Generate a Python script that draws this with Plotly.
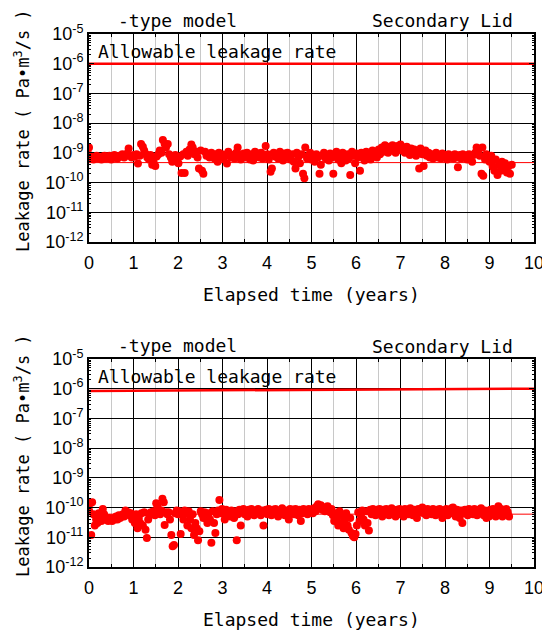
import plotly.graph_objects as go

# ---------------- data ----------------
years_top = [
    0.00, 0.01, 0.04, 0.07, 0.10, 0.13, 0.17, 0.20, 0.24, 0.28, 0.31, 0.35, 0.38, 0.42, 0.46, 0.50,
    0.53, 0.57, 0.60, 0.64, 0.68, 0.71, 0.75, 0.79, 0.82, 0.86, 0.89, 0.92, 0.96, 1.00, 1.03, 1.07,
    1.10, 1.14, 1.17, 1.21, 1.24, 1.28, 1.31, 1.35, 1.38, 1.42, 1.45, 1.49, 1.52, 1.56, 1.59, 1.63,
    1.66, 1.70, 1.73, 1.77, 1.80, 1.84, 1.87, 1.91, 1.94, 1.98, 2.01, 2.05, 2.08, 2.12, 2.15, 2.19,
    2.22, 2.26, 2.30, 2.33, 2.37, 2.40, 2.44, 2.47, 2.51, 2.54, 2.57, 2.61, 2.64, 2.68, 2.71, 2.75,
    2.78, 2.82, 2.85, 2.89, 2.92, 2.96, 2.99, 3.03, 3.06, 3.10, 3.13, 3.17, 3.20, 3.24, 3.27, 3.31,
    3.34, 3.38, 3.41, 3.45, 3.48, 3.52, 3.55, 3.59, 3.62, 3.66, 3.69, 3.73, 3.76, 3.80, 3.83, 3.87,
    3.90, 3.94, 3.97, 4.01, 4.04, 4.08, 4.11, 4.15, 4.18, 4.22, 4.25, 4.29, 4.32, 4.36, 4.39, 4.43,
    4.46, 4.50, 4.53, 4.57, 4.60, 4.64, 4.67, 4.71, 4.74, 4.78, 4.81, 4.84, 4.86, 4.90, 4.93, 4.97,
    5.00, 5.04, 5.07, 5.11, 5.14, 5.18, 5.21, 5.25, 5.28, 5.32, 5.35, 5.39, 5.42, 5.46, 5.49, 5.53,
    5.56, 5.60, 5.63, 5.67, 5.70, 5.74, 5.77, 5.81, 5.84, 5.87, 5.91, 5.94, 5.98, 6.01, 6.05, 6.09,
    6.12, 6.16, 6.19, 6.23, 6.26, 6.30, 6.33, 6.37, 6.40, 6.44, 6.47, 6.51, 6.54, 6.58, 6.61, 6.65,
    6.68, 6.72, 6.75, 6.79, 6.82, 6.86, 6.89, 6.93, 6.96, 7.00, 7.03, 7.07, 7.10, 7.14, 7.17, 7.21,
    7.24, 7.28, 7.31, 7.35, 7.38, 7.42, 7.45, 7.49, 7.52, 7.56, 7.59, 7.63, 7.66, 7.70, 7.73, 7.77,
    7.80, 7.84, 7.87, 7.91, 7.94, 7.98, 8.01, 8.05, 8.08, 8.12, 8.15, 8.19, 8.22, 8.26, 8.29, 8.33,
    8.36, 8.40, 8.43, 8.47, 8.50, 8.54, 8.57, 8.61, 8.64, 8.68, 8.71, 8.75, 8.78, 8.82, 8.84, 8.86,
    8.90, 8.93, 8.97, 9.00, 9.04, 9.07, 9.11, 9.14, 9.18, 9.21, 9.25, 9.28, 9.32, 9.35, 9.39, 9.42,
    9.46, 9.50,
]
leak_top = [
    1.5e-9, 8.5e-10, 6.5e-10, 7.5e-10, 6.0e-10, 7.0e-10, 8.0e-10, 6.5e-10, 7.0e-10, 6.0e-10, 7.5e-10, 8.0e-10, 6.5e-10, 7.0e-10, 8.0e-10, 6.0e-10,
    7.5e-10, 8.5e-10, 7.0e-10, 6.5e-10, 8.0e-10, 7.5e-10, 9.0e-10, 7.0e-10, 8.0e-10, 9.5e-10, 1.4e-9, 8.0e-10, 7.0e-10, 8.5e-10, 7.5e-10, 9.0e-10,
    4.4e-10, 8.0e-10, 2.0e-9, 1.6e-9, 1.2e-9, 9.0e-10, 7.0e-10, 6.0e-10, 8.5e-10, 4.0e-10, 5.0e-10, 3.6e-10, 7.5e-10, 9.0e-10, 1.2e-9, 1.0e-9,
    2.7e-9, 2.0e-9, 1.5e-9, 2.0e-9, 9.0e-10, 7.0e-10, 5.0e-10, 6.0e-10, 8.5e-10, 5.0e-10, 4.5e-10, 7.5e-10, 2.1e-10, 9.0e-10, 2.1e-10, 1.1e-9,
    8.0e-10, 1.3e-9, 1.9e-9, 1.5e-9, 9.0e-10, 1.1e-9, 7.0e-10, 3.0e-10, 1.2e-9, 2.5e-10, 2.0e-10, 1.1e-9, 8.0e-10, 9.0e-10, 7.0e-10, 1.0e-9,
    8.0e-10, 6.5e-10, 9.0e-10, 5.0e-10, 1.0e-9, 7.5e-10, 9.0e-10, 6.5e-10, 8.0e-10, 4.4e-10, 1.1e-9, 9.0e-10, 7.0e-10, 8.5e-10, 6.5e-10, 1.0e-9,
    1.5e-9, 9.0e-10, 6.0e-10, 8.0e-10, 9.5e-10, 7.0e-10, 1.0e-9, 8.0e-10, 6.0e-10, 9.0e-10, 5.5e-10, 1.1e-9, 8.0e-10, 9.5e-10, 7.0e-10, 1.0e-9,
    6.5e-10, 8.5e-10, 1.7e-9, 9.0e-10, 6.0e-10, 2.3e-10, 3.0e-10, 1.0e-9, 7.5e-10, 9.0e-10, 6.5e-10, 1.1e-9, 8.0e-10, 5.5e-10, 9.5e-10, 7.0e-10,
    1.0e-9, 8.0e-10, 6.0e-10, 9.0e-10, 5.0e-10, 3.0e-10, 1.0e-9, 7.5e-10, 4.5e-10, 9.0e-10, 2.0e-10, 1.4e-10, 1.5e-9, 6.5e-10, 8.0e-10, 1.0e-9,
    6.0e-10, 8.5e-10, 5.0e-10, 9.0e-10, 7.0e-10, 2.0e-10, 4.0e-10, 8.0e-10, 1.0e-9, 6.5e-10, 8.5e-10, 5.5e-10, 9.5e-10, 7.0e-10, 2.0e-10, 8.0e-10,
    1.1e-9, 6.0e-10, 9.0e-10, 4.5e-10, 1.0e-9, 7.5e-10, 5.5e-10, 9.0e-10, 6.5e-10, 1.8e-10, 1.1e-9, 8.0e-10, 4.5e-10, 9.5e-10, 7.0e-10, 2.5e-10,
    1.0e-9, 8.0e-10, 5.5e-10, 1.1e-9, 7.5e-10, 9.5e-10, 6.0e-10, 1.2e-9, 8.5e-10, 1.0e-9, 7.0e-10, 1.3e-9, 9.0e-10, 1.5e-9, 1.1e-9, 1.8e-9,
    1.3e-9, 1.0e-9, 1.6e-9, 1.2e-9, 1.8e-9, 1.4e-9, 1.0e-9, 1.7e-9, 1.3e-9, 1.9e-9, 1.2e-9, 1.5e-9, 1.0e-9, 1.6e-9, 1.2e-9, 8.5e-10,
    1.4e-9, 1.0e-9, 1.3e-9, 8.0e-10, 1.1e-9, 3.0e-10, 1.4e-9, 9.0e-10, 3.6e-10, 1.2e-9, 8.0e-10, 1.0e-9, 7.0e-10, 9.0e-10, 6.5e-10, 8.5e-10,
    1.0e-9, 7.0e-10, 8.0e-10, 6.5e-10, 9.5e-10, 7.5e-10, 8.5e-10, 6.0e-10, 9.0e-10, 7.0e-10, 8.0e-10, 6.5e-10, 9.0e-10, 7.0e-10, 3.3e-10, 8.5e-10,
    6.5e-10, 9.0e-10, 7.0e-10, 8.0e-10, 6.0e-10, 9.0e-10, 7.5e-10, 5.0e-10, 8.5e-10, 1.0e-9, 1.5e-9, 1.2e-9, 8.0e-10, 2.0e-10, 1.5e-9, 1.7e-10,
    6.0e-10, 9.0e-10, 7.0e-10, 5.0e-10, 8.0e-10, 3.5e-10, 2.5e-10, 6.0e-10, 1.8e-10, 4.0e-10, 2.5e-10, 5.0e-10, 3.0e-10, 4.5e-10, 2.2e-10, 3.5e-10,
    2.0e-10, 4.0e-10,
]

years_bot = [
    0.00, 0.03, 0.05, 0.07, 0.10, 0.13, 0.16, 0.19, 0.22, 0.25, 0.28, 0.31, 0.34, 0.37, 0.40, 0.43,
    0.46, 0.49, 0.52, 0.55, 0.58, 0.61, 0.64, 0.67, 0.70, 0.73, 0.76, 0.79, 0.82, 0.85, 0.88, 0.91,
    0.94, 0.97, 1.00, 1.03, 1.06, 1.09, 1.12, 1.15, 1.18, 1.21, 1.24, 1.27, 1.30, 1.33, 1.36, 1.39,
    1.42, 1.45, 1.48, 1.51, 1.54, 1.57, 1.60, 1.63, 1.65, 1.68, 1.70, 1.73, 1.76, 1.79, 1.82, 1.85,
    1.88, 1.91, 1.94, 1.97, 2.00, 2.03, 2.06, 2.09, 2.12, 2.15, 2.18, 2.21, 2.24, 2.27, 2.30, 2.33,
    2.36, 2.39, 2.42, 2.45, 2.48, 2.51, 2.54, 2.57, 2.60, 2.63, 2.66, 2.69, 2.72, 2.75, 2.78, 2.81,
    2.84, 2.87, 2.90, 2.93, 2.96, 2.99, 3.02, 3.05, 3.08, 3.11, 3.14, 3.17, 3.20, 3.23, 3.26, 3.29,
    3.32, 3.35, 3.38, 3.41, 3.44, 3.47, 3.50, 3.53, 3.56, 3.59, 3.62, 3.65, 3.68, 3.71, 3.74, 3.77,
    3.80, 3.83, 3.86, 3.89, 3.92, 3.95, 3.98, 4.01, 4.04, 4.07, 4.10, 4.13, 4.16, 4.19, 4.22, 4.25,
    4.28, 4.31, 4.34, 4.37, 4.40, 4.43, 4.46, 4.49, 4.52, 4.55, 4.58, 4.61, 4.64, 4.67, 4.70, 4.73,
    4.76, 4.79, 4.82, 4.85, 4.88, 4.91, 4.94, 4.97, 5.00, 5.03, 5.06, 5.09, 5.12, 5.15, 5.18, 5.21,
    5.24, 5.27, 5.30, 5.33, 5.36, 5.39, 5.42, 5.45, 5.48, 5.51, 5.54, 5.57, 5.60, 5.63, 5.66, 5.69,
    5.72, 5.75, 5.78, 5.81, 5.84, 5.87, 5.90, 5.93, 5.96, 5.99, 6.02, 6.05, 6.08, 6.11, 6.14, 6.17,
    6.20, 6.23, 6.26, 6.29, 6.32, 6.35, 6.38, 6.41, 6.44, 6.47, 6.50, 6.53, 6.56, 6.59, 6.62, 6.65,
    6.68, 6.71, 6.74, 6.77, 6.80, 6.83, 6.86, 6.89, 6.92, 6.95, 6.98, 7.01, 7.04, 7.07, 7.10, 7.13,
    7.16, 7.19, 7.22, 7.25, 7.28, 7.31, 7.34, 7.37, 7.40, 7.43, 7.46, 7.49, 7.52, 7.55, 7.58, 7.61,
    7.64, 7.67, 7.70, 7.73, 7.76, 7.79, 7.82, 7.85, 7.88, 7.91, 7.94, 7.97, 8.00, 8.03, 8.06, 8.09,
    8.12, 8.15, 8.18, 8.21, 8.24, 8.27, 8.30, 8.33, 8.36, 8.39, 8.42, 8.45, 8.48, 8.51, 8.54, 8.57,
    8.60, 8.63, 8.66, 8.69, 8.72, 8.75, 8.78, 8.81, 8.84, 8.87, 8.90, 8.93, 8.96, 8.99, 9.02, 9.05,
    9.08, 9.11, 9.14, 9.17, 9.20, 9.23, 9.26, 9.29, 9.32, 9.35, 9.38, 9.41, 9.44,
]
leak_bot = [
    8.0e-11, 1.4e-10, 1.2e-11, 1.5e-10, 6.0e-11, 2.5e-11, 4.0e-11, 3.0e-11, 6.5e-11, 4.5e-11, 3.5e-11, 9.0e-11, 6.0e-11, 4.0e-11, 4.5e-11, 3.5e-11,
    4.5e-11, 4.0e-11, 3.5e-11, 4.5e-11, 4.0e-11, 5.0e-11, 4.0e-11, 5.5e-11, 4.5e-11, 5.0e-11, 6.0e-11, 5.0e-11, 8.0e-11, 6.5e-11, 7.0e-11, 5.5e-11,
    6.5e-11, 4.0e-11, 5.5e-11, 3.0e-11, 6.0e-11, 2.0e-11, 4.5e-11, 3.0e-11, 6.5e-11, 2.5e-11, 7.0e-11, 1.8e-11, 9.5e-12, 4.0e-11, 6.0e-11, 7.0e-11,
    6.0e-11, 7.5e-11, 5.5e-11, 1.4e-10, 1.1e-10, 7.0e-11, 6.0e-11, 8.0e-11, 2.0e-10, 1.5e-10, 2.6e-11, 7.0e-11, 6.0e-11, 7.0e-11, 4.0e-11, 1.2e-11,
    5.0e-12, 5.5e-12, 6.5e-11, 8.0e-11, 6.0e-11, 7.5e-11, 1.3e-11, 7.0e-11, 4.0e-11, 8.0e-11, 6.5e-11, 2.5e-11, 7.5e-11, 4.0e-11, 2.0e-11, 6.0e-11,
    1.2e-11, 3.0e-11, 2.0e-11, 8.0e-12, 1.6e-11, 7.5e-11, 6.0e-11, 4.5e-11, 7.0e-11, 5.0e-11, 3.0e-11, 6.5e-11, 4.0e-11, 6.5e-12, 7.5e-11, 3.0e-11,
    1.4e-11, 6.0e-11, 8.0e-11, 1.8e-10, 6.5e-11, 9.0e-11, 7.0e-11, 4.0e-11, 8.5e-11, 6.0e-11, 7.5e-11, 5.0e-11, 8.0e-11, 6.5e-11, 4.5e-11, 7.5e-11,
    8.0e-12, 6.0e-11, 8.5e-11, 2.5e-11, 7.0e-11, 9.0e-11, 6.0e-11, 7.5e-11, 5.0e-11, 8.5e-11, 6.5e-11, 9.0e-11, 7.0e-11, 5.5e-11, 8.0e-11, 6.5e-11,
    9.0e-11, 7.0e-11, 5.5e-11, 8.0e-11, 2.5e-11, 7.0e-11, 8.5e-11, 6.0e-11, 9.0e-11, 7.0e-11, 5.5e-11, 8.5e-11, 6.5e-11, 9.0e-11, 7.0e-11, 5.0e-11,
    8.0e-11, 6.5e-11, 9.5e-11, 7.0e-11, 5.5e-11, 8.0e-11, 6.5e-11, 4.0e-11, 9.0e-11, 7.0e-11, 8.5e-11, 6.0e-11, 9.0e-11, 7.5e-11, 5.5e-11, 8.5e-11,
    3.5e-11, 6.5e-11, 9.0e-11, 7.0e-11, 8.0e-11, 6.0e-11, 9.0e-11, 7.5e-11, 8.5e-11, 6.5e-11, 9.5e-11, 7.5e-11, 1.1e-10, 1.3e-10, 1.0e-10, 1.2e-10,
    8.5e-11, 1.0e-10, 7.5e-11, 9.0e-11, 1.1e-10, 8.0e-11, 7.0e-11, 9.0e-11, 5.5e-11, 3.5e-11, 6.5e-11, 4.5e-11, 2.5e-11, 7.5e-11, 3.0e-11, 5.5e-11,
    2.0e-11, 4.0e-11, 6.5e-11, 2.5e-11, 1.8e-11, 4.5e-11, 1.4e-11, 1.1e-11, 1.0e-11, 1.3e-11, 2.5e-11, 7.0e-11, 3.5e-11, 5.5e-11, 8.0e-11, 4.0e-11,
    2.5e-11, 7.5e-11, 3.0e-11, 1.7e-11, 8.5e-11, 6.0e-11, 9.0e-11, 7.0e-11, 5.5e-11, 8.5e-11, 6.5e-11, 9.0e-11, 7.0e-11, 5.0e-11, 8.5e-11, 6.5e-11,
    9.0e-11, 7.5e-11, 5.5e-11, 8.0e-11, 9.5e-11, 6.5e-11, 7.5e-11, 5.0e-11, 8.5e-11, 7.0e-11, 9.0e-11, 6.0e-11, 8.0e-11, 5.0e-11, 9.0e-11, 7.0e-11,
    8.5e-11, 6.0e-11, 9.5e-11, 7.0e-11, 5.5e-11, 8.5e-11, 6.5e-11, 4.5e-11, 9.0e-11, 7.0e-11, 8.0e-11, 1.0e-10, 6.5e-11, 8.5e-11, 5.5e-11, 9.0e-11,
    7.0e-11, 8.0e-11, 6.0e-11, 9.0e-11, 7.5e-11, 5.5e-11, 8.5e-11, 6.5e-11, 9.0e-11, 7.0e-11, 4.5e-11, 8.0e-11, 6.5e-11, 9.0e-11, 5.5e-11, 8.0e-11,
    6.5e-11, 9.5e-11, 1.0e-10, 7.0e-11, 5.0e-11, 8.5e-11, 6.5e-11, 4.5e-11, 8.0e-11, 3.0e-11, 6.5e-11, 8.5e-11, 7.0e-11, 5.5e-11, 9.0e-11, 7.0e-11,
    8.0e-11, 6.0e-11, 9.0e-11, 7.5e-11, 5.5e-11, 8.5e-11, 6.5e-11, 9.5e-11, 7.0e-11, 5.5e-11, 8.0e-11, 4.5e-11, 7.0e-11, 5.0e-11, 8.5e-11, 6.0e-11,
    9.0e-11, 7.0e-11, 5.0e-11, 8.0e-11, 1.1e-10, 6.5e-11, 9.0e-11, 5.0e-11, 8.0e-11, 6.0e-11, 9.0e-11, 7.0e-11, 5.0e-11,
]

allow_x = [0, 10]
allow_top = [1.0e-6, 1.0e-6]
allow_bot = [8.4e-7, 1.0e-6]
trend_x = [0, 10]
trend_top = [4.7e-10, 4.7e-10]
trend_bot = [6.0e-11, 6.0e-11]

x_ticks = [0, 1, 2, 3, 4, 5, 6, 7, 8, 9, 10]
y_exps = [-12, -11, -10, -9, -8, -7, -6, -5]
y_ticktext = ["10<sup>%d</sup>" % e for e in y_exps]
y_tickvals = [10.0 ** e for e in y_exps]
y_minor = [m * 10.0 ** e for e in y_exps[:-1] for m in range(2, 10)]

title_left = "-type model"
title_right = "Secondary Lid"
allow_label = "Allowable leakage rate"
x_title = "Elapsed time (years)"
y_title = "Leakage rate ( Pa\u2022m<sup>3</sup>/s )"

# ---------------- figure ----------------
W, H = 542, 630
RED = "#ff0000"
MONO = "DejaVu Sans Mono"
SANS = "Liberation Sans"

fig = go.Figure()

panels = [
    dict(xa="x", ya="y", top=34, years=years_top, leak=leak_top, allow=allow_top, trend=trend_top),
    dict(xa="x2", ya="y2", top=359, years=years_bot, leak=leak_bot, allow=allow_bot, trend=trend_bot),
]

for p in panels:
    fig.add_trace(go.Scatter(x=trend_x, y=p["trend"], mode="lines",
                             line=dict(color=RED, width=1), xaxis=p["xa"], yaxis=p["ya"],
                             showlegend=False, hoverinfo="skip"))
    fig.add_trace(go.Scatter(x=p["years"], y=p["leak"], mode="markers",
                             marker=dict(color=RED, size=8, line=dict(width=0)),
                             xaxis=p["xa"], yaxis=p["ya"], showlegend=False))
    fig.add_trace(go.Scatter(x=allow_x, y=p["allow"], mode="lines",
                             line=dict(color=RED, width=2.5), xaxis=p["xa"], yaxis=p["ya"],
                             showlegend=False, hoverinfo="skip"))

xdom = [89 / W, 534 / W]

def xaxis_cfg(anchor):
    return dict(
        domain=xdom, anchor=anchor, range=[0, 10], tickmode="array", tickvals=x_ticks,
        ticks="inside", ticklen=4, tickcolor="black", tickwidth=1,
        showgrid=True, gridcolor="black", gridwidth=1,
        minor=dict(dtick=0.5, tick0=0, showgrid=True, gridcolor="#c8c8c8", gridwidth=1,
                   ticks="inside", ticklen=3, tickcolor="black"),
        showline=True, linecolor="black", linewidth=2, mirror="allticks",
        zeroline=False, automargin=False, ticklabeloverflow="allow",
        ticklabelstandoff=3,
        tickfont=dict(family=SANS, size=18, color="black"),
    )

def yaxis_cfg(anchor, top):
    bottom = top + 208
    return dict(
        domain=[1 - bottom / H, 1 - top / H], anchor=anchor, type="log", range=[-12, -5],
        tickmode="array", tickvals=y_tickvals, ticktext=y_ticktext,
        ticks="inside", ticklen=5, tickcolor="black",
        minor=dict(tickmode="array", tickvals=y_minor, ticks="inside", ticklen=2,
                   tickcolor="black", showgrid=False),
        showgrid=True, gridcolor="black", gridwidth=1,
        showline=True, linecolor="black", linewidth=2, mirror="allticks",
        zeroline=False, automargin=False, ticklabeloverflow="allow",
        tickfont=dict(family=SANS, size=18, color="black"),
    )

fig.update_layout(
    width=W, height=H, margin=dict(l=0, r=0, t=0, b=0),
    paper_bgcolor="white", plot_bgcolor="white", template="none",
    xaxis=xaxis_cfg("y"), yaxis=yaxis_cfg("x", 34),
    xaxis2=xaxis_cfg("y2"), yaxis2=yaxis_cfg("x2", 359),
)

def ann(text, xpx, ypx, size, xanchor="left", angle=0, family=MONO):
    fig.add_annotation(text=text, x=xpx / W, y=1 - ypx / H, xref="paper", yref="paper",
                       xanchor=xanchor, yanchor="middle", showarrow=False, textangle=angle,
                       font=dict(family=family, size=size, color="black"))

for p in panels:
    off = p["top"] - 34
    ann(title_left, 116, 20 + off, 18)
    ann(title_right, 370, 21 + off, 18)
    ann(allow_label, 96, 51 + off, 18)
    ann(x_title, 311, 294 + off, 18, xanchor="center")
    ann(y_title, 22, 131 + off, 17, xanchor="center", angle=-90)

fig.write_html("out.html")
